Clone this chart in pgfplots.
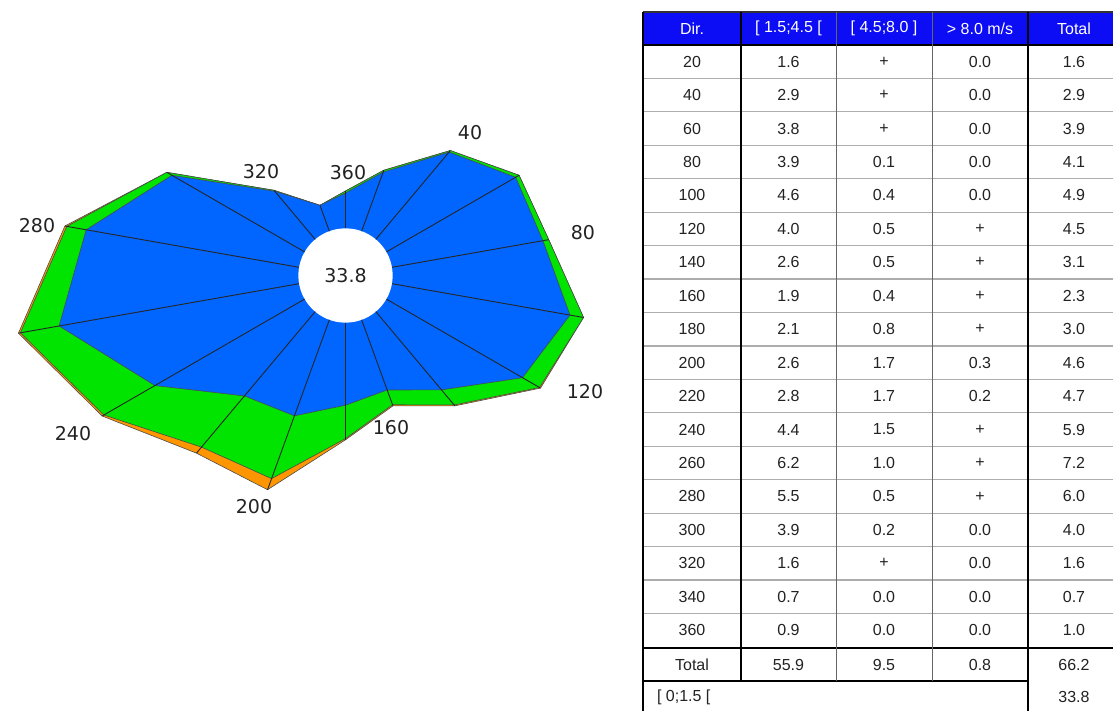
\documentclass[border=0pt]{standalone}
\usepackage{pgfplots}
\pgfplotsset{compat=1.18}
\usepackage{pgfplotstable}
\usepackage{fontspec}
\setmainfont{Liberation Sans}
\newfontfamily\dejavu{DejaVu Sans}
\definecolor{roseblue}{RGB}{0,102,255}
\definecolor{rosegreen}{RGB}{0,228,0}
\definecolor{roseorange}{RGB}{255,150,0}
\definecolor{headblue}{RGB}{12,12,245}
\definecolor{txt}{RGB}{34,34,34}

% dir, [1.5;4.5[ , cumulative up to 8.0, cumulative total
\pgfplotstableread{
dir b c t
20 1.6 1.65 1.65
40 2.9 2.95 2.95
60 3.8 3.9 3.9
80 3.9 4.05 4.05
100 4.6 4.95 4.95
120 4.0 4.5 4.53
140 2.6 3.1 3.13
160 1.9 2.3 2.33
180 2.1 2.95 2.98
200 2.6 4.3 4.6
220 2.8 4.5 4.7
240 4.4 5.9 5.95
260 6.2 7.2 7.25
280 5.5 6.0 6.05
300 3.9 4.05 4.05
320 1.6 1.63 1.63
340 0.7 0.7 0.7
360 0.9 0.95 0.95
}\rose

\begin{document}
\begin{tikzpicture}[x=0.5pt,y=-0.5pt]
\useasboundingbox (0,0) rectangle (1113,711);

\begin{axis}[
  x=19.65pt, y=19.65pt,
  xmin=-9, xmax=7, ymin=-7, ymax=5,
  hide axis, clip=false,
  anchor=origin, at={(172.75pt,-137.75pt)},
]
\addplot[fill=roseorange, draw=black!70, line width=0.3pt]
  table[x expr={(\thisrow{t}+1.2)*sin(\thisrow{dir})}, y expr={(\thisrow{t}+1.2)*cos(\thisrow{dir})}] {\rose} -- cycle;
\addplot[fill=rosegreen, draw=black!70, line width=0.3pt]
  table[x expr={(\thisrow{c}+1.2)*sin(\thisrow{dir})}, y expr={(\thisrow{c}+1.2)*cos(\thisrow{dir})}] {\rose} -- cycle;
\addplot[fill=roseblue, draw=black!70, line width=0.3pt]
  table[x expr={(\thisrow{b}+1.2)*sin(\thisrow{dir})}, y expr={(\thisrow{b}+1.2)*cos(\thisrow{dir})}] {\rose} -- cycle;
\fill[white] (axis cs:0,0) circle[radius=1.2];
\addplot[black!85, line width=0.45pt, mark=none,
  quiver={u={\thisrow{t}*sin(\thisrow{dir})}, v={\thisrow{t}*cos(\thisrow{dir})}}]
  table[x expr={1.2*sin(\thisrow{dir})}, y expr={1.2*cos(\thisrow{dir})}] {\rose};

\begin{scope}[every node/.style={font=\dejavu\fontsize{9.5}{11}\selectfont, text=txt}]
\node at (axis cs:0,0) {33.8};
\node at (axis cs:3.168,3.626) {40};
\node at (axis cs:6.043,1.081) {80};
\node at (axis cs:6.094,-2.964) {120};
\node at (axis cs:1.158,-3.880) {160};
\node at (axis cs:-2.328,-5.891) {200};
\node at (axis cs:-6.934,-4.033) {240};
\node at (axis cs:-7.850,1.260) {280};
\node at (axis cs:-2.150,2.634) {320};
\node at (axis cs:0.064,2.608) {360};
\end{scope}
\end{axis}

% ---- table ----
\fill[headblue] (643,12) rectangle (1113,45);
\begin{scope}[every node/.style={font=\fontsize{8}{9.6}\selectfont, text=white}]
\node at (692,28.5) {Dir.};
\node at (788.5,28.5) {[ 1.5;4.5 [};
\node at (884,28.5) {[ 4.5;8.0 ]};
\node at (980,28.5) {> 8.0 m/s};
\node at (1074,28.5) {Total};
\end{scope}
\foreach \k in {1,...,17} \draw[black!32, line width=0.6pt] (643,{45+33.44*\k}) -- (1113,{45+33.44*\k});
\begin{scope}[every node/.style={font=\fontsize{8}{9.6}\selectfont, text=txt}]
\foreach \d/\a/\b/\c/\t [count=\i from 0] in {20/1.6/+/0.0/1.6, 40/2.9/+/0.0/2.9, 60/3.8/+/0.0/3.9, 80/3.9/0.1/0.0/4.1, 100/4.6/0.4/0.0/4.9, 120/4.0/0.5/+/4.5, 140/2.6/0.5/+/3.1, 160/1.9/0.4/+/2.3, 180/2.1/0.8/+/3.0, 200/2.6/1.7/0.3/4.6, 220/2.8/1.7/0.2/4.7, 240/4.4/1.5/+/5.9, 260/6.2/1.0/+/7.2, 280/5.5/0.5/+/6.0, 300/3.9/0.2/0.0/4.0, 320/1.6/+/0.0/1.6, 340/0.7/0.0/0.0/0.7, 360/0.9/0.0/0.0/1.0}
{
  \pgfmathsetmacro\yy{45+33.44*(\i+0.5)}
  \node at (692,\yy) {\d};
  \node at (788.5,\yy) {\a};
  \node at (884,\yy) {\b};
  \node at (980,\yy) {\c};
  \node at (1074,\yy) {\t};
}
\node at (692,664.6) {Total};
\node at (788.5,664.6) {55.9};
\node at (884,664.6) {9.5};
\node at (980,664.6) {0.8};
\node at (1074,664.6) {66.2};
\node[anchor=west] at (650,697) {[ 0;1.5 [};
\node at (1074,697) {33.8};
\end{scope}
\draw[black!80, line width=0.8pt] (643,12) -- (1113,12);
\draw[black, line width=1pt] (643,45) -- (1113,45);
\draw[black, line width=1pt] (643,647.9) -- (1113,647.9);
\draw[black, line width=1pt] (643,681.3) -- (1028,681.3);
\draw[black, line width=1.1pt] (643,12) -- (643,711);
\draw[black, line width=1pt] (741,12) -- (741,681.3);
\draw[black!60, line width=0.5pt] (836,12) -- (836,681.3);
\draw[black!60, line width=0.5pt] (932,12) -- (932,681.3);
\draw[black, line width=1pt] (1028,12) -- (1028,711);
\end{tikzpicture}
\end{document}
